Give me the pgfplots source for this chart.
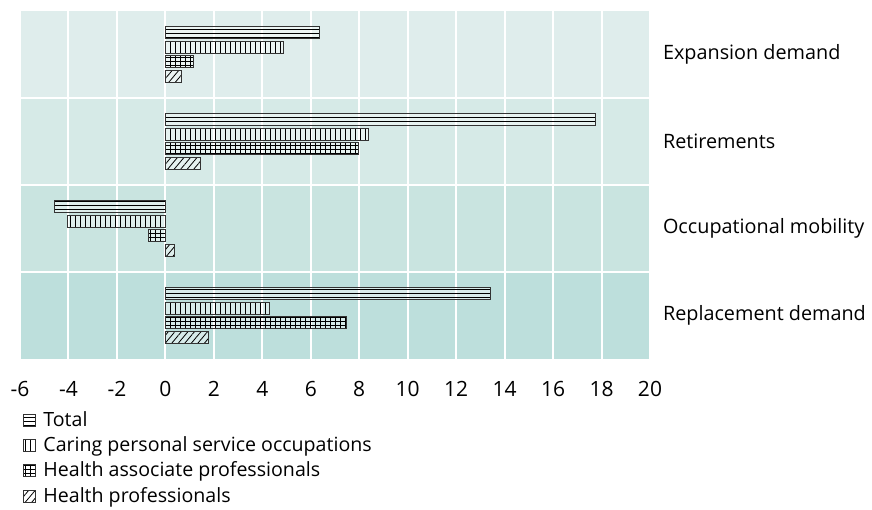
\documentclass[border=0pt]{standalone}
\usepackage{pgfplots}
\pgfplotsset{compat=1.18}
\usepackage{fontspec}
\setmainfont{Open Sans}
\usetikzlibrary{patterns.meta}
\definecolor{bandA}{HTML}{DFEDEC}
\definecolor{bandB}{HTML}{D6EAE7}
\definecolor{bandC}{HTML}{C9E4E0}
\definecolor{bandD}{HTML}{BDDFDC}
\definecolor{barline}{HTML}{333333}
\pgfplotsset{sqleg/.style={legend image code/.code={\draw[##1] (0pt,-3pt) rectangle (6pt,3pt);}}}
\begin{document}
\begin{tikzpicture}
\begin{axis}[
  set layers=standard,
  scale only axis,
  width=315pt, height=174pt,
  xmin=-6, xmax=20,
  ymin=-0.5, ymax=3.5,
  y dir=reverse,
  xtick={-6,-4,...,20},
  ytick={0,1,2,3},
  yticklabels={Expansion demand,Retirements,Occupational mobility,Replacement demand},
  yticklabel pos=right,
  yticklabel style={anchor=west, xshift=3pt, font=\fontsize{9.9}{12}\selectfont},
  minor ytick={0.5,1.5,2.5},
  xmajorgrids, yminorgrids, ymajorgrids=false,
  grid style={white, line width=1pt},
  minor grid style={white, line width=1pt},
  major tick length=0pt, minor tick length=0pt,
  axis line style={draw=none},
  /pgf/number format/assume math mode=true,
  xticklabel style={yshift=-7.5pt, font=\fontsize{10.5}{12}\selectfont},
  xbar,
  bar width=0.138,
  legend style={at={(axis description cs:0,0)}, anchor=north west, xshift=-1.5pt, yshift=-22pt,
    draw=none, fill=none, font=\fontsize{9.8}{11.5}\selectfont, row sep=-0.3pt, column sep=1.5pt},
  legend cell align=left,
]
\begin{pgfonlayer}{axis background}
\fill[bandA] (axis cs:-6,-0.5) rectangle (axis cs:20,0.5);
\fill[bandB] (axis cs:-6,0.5) rectangle (axis cs:20,1.5);
\fill[bandC] (axis cs:-6,1.5) rectangle (axis cs:20,2.5);
\fill[bandD] (axis cs:-6,2.5) rectangle (axis cs:20,3.5);
\end{pgfonlayer}
\coordinate (pl) at (axis description cs:0,0);
\coordinate (pr) at (axis description cs:1,1);
\addplot[sqleg, bar shift=-0.258, draw=barline, line width=0.5pt, fill=white, fill opacity=0.4,
  postaction={pattern={Lines[angle=0,distance=2pt,line width=0.45pt]}, pattern color=black}]
  coordinates {(6.38,0) (17.76,1) (-4.57,2) (13.40,3)};
\addlegendentry{Total}
\addplot[sqleg, bar shift=-0.086, draw=barline, line width=0.5pt, fill=white, fill opacity=0.4,
  postaction={pattern={Lines[angle=90,distance=2.5pt,line width=0.4pt]}, pattern color=black}]
  coordinates {(4.86,0) (8.38,1) (-4.06,2) (4.29,3)};
\addlegendentry{Caring personal service occupations}
\addplot[sqleg, bar shift=0.086, draw=barline, line width=0.5pt, fill=white, fill opacity=0.4,
  postaction={pattern={Lines[angle=0,distance=2pt,line width=0.4pt]}, pattern color=black},
  postaction={pattern={Lines[angle=90,distance=2.5pt,line width=0.4pt]}, pattern color=black}]
  coordinates {(1.15,0) (7.96,1) (-0.69,2) (7.48,3)};
\addlegendentry{Health associate professionals}
\addplot[sqleg, bar shift=0.258, draw=barline, line width=0.5pt, fill=white, fill opacity=0.4,
  postaction={pattern={Lines[angle=50,distance=2.5pt,line width=0.4pt]}, pattern color=black}]
  coordinates {(0.66,0) (1.46,1) (0.36,2) (1.79,3)};
\addlegendentry{Health professionals}
\end{axis}
\pgfresetboundingbox
\path ([xshift=-10pt,yshift=-75pt]pl) rectangle ([xshift=111pt,yshift=5.5pt]pr);
\end{tikzpicture}
\end{document}
